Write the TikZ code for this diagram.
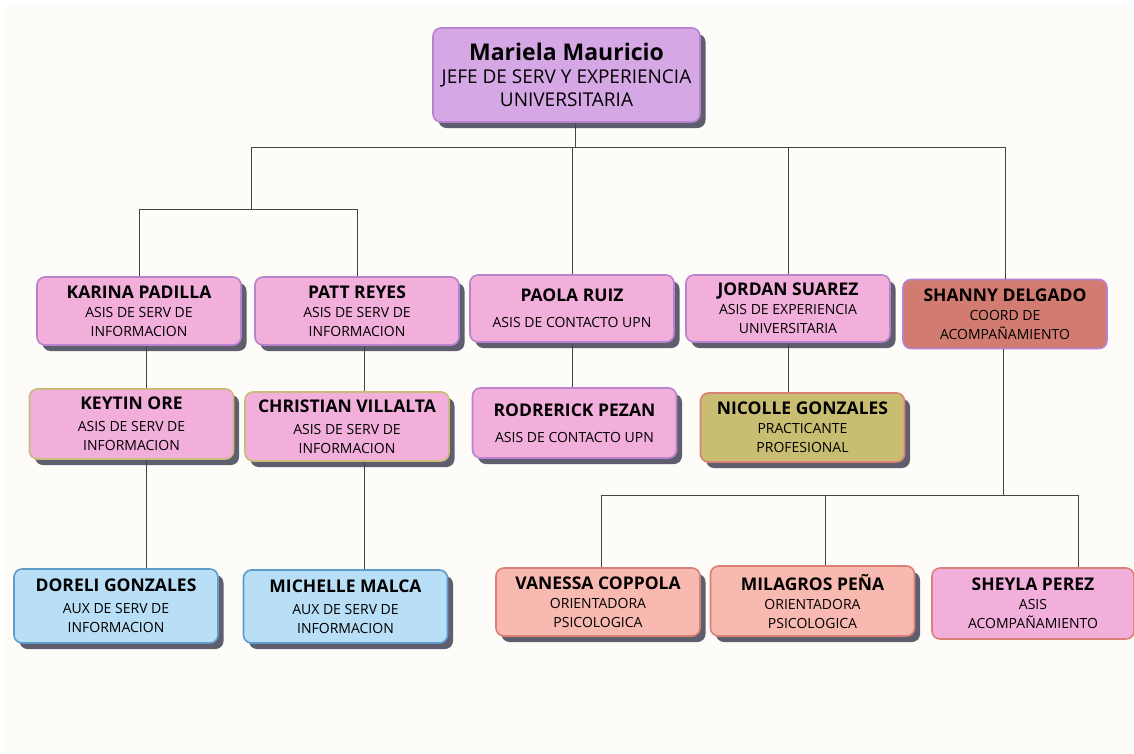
\documentclass[tikz,border=0pt]{standalone}
\usepackage{fontspec}
\setmainfont{Open Sans}
\usetikzlibrary{shadows}
\definecolor{paper}{HTML}{FDFCF8}
\definecolor{shadowgray}{HTML}{5F5E6E}
\definecolor{lilac}{HTML}{D6A7E5}
\definecolor{lilacedge}{HTML}{B882CE}
\definecolor{rosefill}{HTML}{F2AFDB}
\definecolor{khakiedge}{HTML}{C9BB7A}
\definecolor{brickfill}{HTML}{D27B70}
\definecolor{olivefill}{HTML}{C8BD71}
\definecolor{salmonedge}{HTML}{DC8076}
\definecolor{skyfill}{HTML}{B8DFF6}
\definecolor{skyedge}{HTML}{5F9DCB}
\definecolor{peachfill}{HTML}{F8B9B0}
\definecolor{linkgray}{HTML}{444444}
\newcommand{\pname}[1]{{\bfseries\fontsize{17.5}{20}\selectfont #1}}

\begin{document}
\begin{tikzpicture}[x=1pt,y=1pt]
\tikzstyle{card}=[rectangle, rounded corners=8pt, line width=1.6pt, align=center,
  inner sep=0pt, minimum width=204pt, minimum height=68pt,
  font=\fontsize{14}{19}\selectfont]
\tikzstyle{shade}=[drop shadow={shadow xshift=5.5pt, shadow yshift=-6pt, fill=shadowgray, opacity=1}]
\tikzstyle{link}=[draw=linkgray, line width=1pt]
% page
\fill[white] (0,0) rectangle (1134,-753);
\fill[paper] (3,-6) rectangle (1134,-753);
\useasboundingbox (0,0) rectangle (1134,-753);
% head
\node[card, shade, fill=lilac, draw=lilacedge, minimum width=267pt, minimum height=94pt,
  font=\fontsize{19}{23}\selectfont] (mariela) at (566.5,-75)
  {{\bfseries\fontsize{23}{26}\selectfont Mariela Mauricio}\\JEFE DE SERV Y EXPERIENCIA\\UNIVERSITARIA};
% first row
\node[card, shade, fill=rosefill, draw=lilacedge] (karina) at (139,-311)
  {\pname{KARINA PADILLA}\\ASIS DE SERV DE\\INFORMACION};
\node[card, shade, fill=rosefill, draw=lilacedge] (patt) at (357,-311)
  {\pname{PATT REYES}\\ASIS DE SERV DE\\INFORMACION};
\node[card, shade, fill=rosefill, draw=lilacedge, minimum height=67pt] (paola) at (572,-308.5)
  {\pname{PAOLA RUIZ}\\[7pt]ASIS DE CONTACTO UPN};
\node[card, shade, fill=rosefill, draw=lilacedge, minimum height=67pt] (jordan) at (788,-308.5)
  {\pname{JORDAN SUAREZ}\\ASIS DE EXPERIENCIA\\UNIVERSITARIA};
\node[card, fill=brickfill, draw=lilacedge, minimum height=69pt] (shanny) at (1005,-314)
  {\pname{SHANNY DELGADO}\\COORD DE\\ACOMPAÑAMIENTO};
% second row
\node[card, shade, fill=rosefill, draw=khakiedge, minimum height=70pt] (keytin) at (131.5,-424)
  {\pname{KEYTIN ORE}\\[3pt]ASIS DE SERV DE\\INFORMACION};
\node[card, shade, fill=rosefill, draw=khakiedge, minimum height=69pt] (christian) at (347,-426.5)
  {\pname{CHRISTIAN VILLALTA}\\[3pt]ASIS DE SERV DE\\INFORMACION};
\node[card, shade, fill=rosefill, draw=lilacedge, minimum height=70pt] (rodrerick) at (574.5,-423)
  {\pname{RODRERICK PEZAN}\\[7pt]ASIS DE CONTACTO UPN};
\node[card, shade, fill=olivefill, draw=salmonedge, minimum height=69pt] (nicolle) at (802.5,-427.5)
  {\pname{NICOLLE GONZALES}\\PRACTICANTE\\PROFESIONAL};
% third row
\node[card, shade, fill=skyfill, draw=skyedge, minimum height=74pt] (doreli) at (116,-606)
  {\pname{DORELI GONZALES}\\[3pt]AUX DE SERV DE\\INFORMACION};
\node[card, shade, fill=skyfill, draw=skyedge, minimum height=73pt] (michelle) at (345.5,-606.5)
  {\pname{MICHELLE MALCA}\\[3pt]AUX DE SERV DE\\INFORMACION};
\node[card, shade, fill=peachfill, draw=salmonedge] (vanessa) at (598,-602)
  {\pname{VANESSA COPPOLA}\\ORIENTADORA\\PSICOLOGICA};
\node[card, shade, fill=peachfill, draw=salmonedge, minimum height=70pt] (milagros) at (812.5,-601)
  {\pname{MILAGROS PEÑA}\\ORIENTADORA\\PSICOLOGICA};
\node[card, fill=rosefill, draw=salmonedge, minimum width=202pt, minimum height=71pt] (sheyla) at (1033,-603.5)
  {\pname{SHEYLA PEREZ}\\ASIS\\ACOMPAÑAMIENTO};
% bus points
\coordinate (hub) at (575,-147);
\coordinate (busW) at (251,-147);
\coordinate (busE) at (1005,-147);
\coordinate (subbus) at (251,-209);
\coordinate (accbus) at (1003,-495);
\coordinate (dropA) at (601,-495);
\coordinate (dropB) at (825,-495);
\coordinate (dropC) at (1078,-495);
\coordinate (leftdrop) at (146,-209);
\coordinate (rightdrop) at (364,-209);
% connectors
\draw[link] (mariela.south -| hub) -- (hub);
\draw[link] (busW) -- (busE);
\draw[link] (busW) -- (subbus);
\draw[link] (karina.north) -- (karina.north |- subbus) -- (patt.north |- subbus) -- (patt.north);
\draw[link] (paola.north) -- (paola.north |- hub);
\draw[link] (jordan.north) -- (jordan.north |- hub);
\draw[link] (shanny.north) -- (shanny.north |- hub);
\draw[link] (leftdrop |- karina.south) -- (leftdrop |- keytin.north);
\draw[link] (leftdrop |- keytin.south) -- (leftdrop |- doreli.north);
\draw[link] (rightdrop |- patt.south) -- (rightdrop |- christian.north);
\draw[link] (rightdrop |- christian.south) -- (rightdrop |- michelle.north);
\draw[link] (paola.south) -- (paola.south |- rodrerick.north);
\draw[link] (jordan.south) -- (jordan.south |- nicolle.north);
\draw[link] (shanny.south -| accbus) -- (accbus);
\draw[link] (dropA) -- (dropC);
\draw[link] (dropA) -- (dropA |- vanessa.north);
\draw[link] (dropB) -- (dropB |- milagros.north);
\draw[link] (dropC) -- (dropC |- sheyla.north);
\end{tikzpicture}
\end{document}
